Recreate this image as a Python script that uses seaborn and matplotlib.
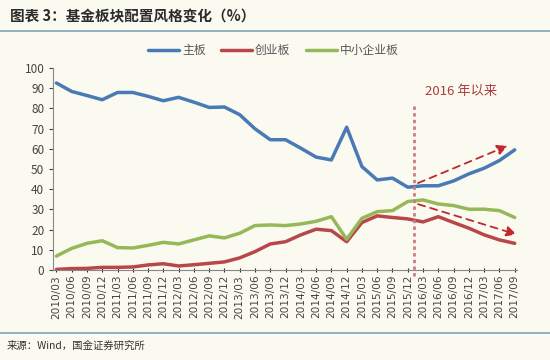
import numpy as np
import matplotlib.pyplot as plt
import seaborn as sns
import pandas as pd

# quarterly dates 2010/03 .. 2017/09
dates = ['2010/03', '2010/06', '2010/09', '2010/12', '2011/03', '2011/06', '2011/09', '2011/12',
         '2012/03', '2012/06', '2012/09', '2012/12', '2013/03', '2013/06', '2013/09', '2013/12',
         '2014/03', '2014/06', '2014/09', '2014/12', '2015/03', '2015/06', '2015/09', '2015/12',
         '2016/03', '2016/06', '2016/09', '2016/12', '2017/03', '2017/06', '2017/09']

main_board = [92.6, 88.4, 86.4, 84.3, 87.9, 87.9, 86.0, 83.8, 85.5, 83.1, 80.5, 80.7, 76.9, 69.9, 64.5, 64.5,
              60.3, 55.9, 54.5, 70.7, 51.2, 44.6, 45.5, 41.0, 41.7, 41.7, 44.1, 47.6, 50.4, 54.2, 59.5]
gem_board = [0.3, 0.7, 0.8, 1.3, 1.3, 1.5, 2.5, 3.1, 2.0, 2.6, 3.3, 4.0, 6.0, 9.1, 12.9, 14.0,
             17.4, 20.2, 19.5, 14.0, 23.5, 26.8, 26.0, 25.3, 23.8, 26.4, 23.5, 20.7, 17.4, 14.9, 13.2]
sme_board = [6.9, 10.7, 13.2, 14.5, 11.1, 10.9, 12.2, 13.7, 12.9, 14.9, 16.9, 15.9, 18.2, 22.0, 22.3, 22.0,
             22.8, 24.1, 26.4, 15.2, 25.6, 28.9, 29.4, 33.9, 34.7, 32.7, 31.9, 30.1, 30.1, 29.4, 26.0]

series_names = ['主板', '创业板', '中小企业板']
series_colors = ['#4A7AB5', '#B8474A', '#97B858']

df = pd.DataFrame({'idx': np.arange(len(dates)),
                   '主板': main_board, '创业板': gem_board, '中小企业板': sme_board})
long = df.melt(id_vars='idx', var_name='板块', value_name='占比')

sns.set_style('ticks')
plt.rcParams['font.family'] = ['Noto Sans CJK SC', 'DejaVu Sans']

bg = '#FBFAF1'
fig = plt.figure(figsize=(5.5, 3.6), dpi=100, facecolor=bg)
ax = fig.add_axes([0.097, 0.25, 0.843, 0.561])
ax.set_facecolor(bg)

sns.lineplot(data=long, x='idx', y='占比', hue='板块', hue_order=series_names,
             palette=series_colors, linewidth=2.5, ax=ax, legend=False)

ax.set_xlim(-0.2, 30.15)
ax.set_ylim(0, 100)
ax.set_yticks(range(0, 101, 10))
ax.set_xticks(range(len(dates)))
ax.set_xticklabels(dates, rotation=90, fontsize=7.6, color='#444444', family=['DejaVu Sans'])
ax.tick_params(axis='y', labelsize=8.5, colors='#444444', length=3, width=0.8)
ax.tick_params(axis='x', length=3, width=0.8, direction='inout', pad=2)
ax.set_xlabel('')
ax.set_ylabel('')
for s in ['top', 'right']:
    ax.spines[s].set_visible(False)
for s in ['left', 'bottom']:
    ax.spines[s].set_color('#888888')
    ax.spines[s].set_linewidth(0.8)

# vertical dashed marker and annotations
ax.axvline(23.4, ymin=-0.03, ymax=0.82, color='#CC7A80', linestyle=(0, (1.2, 1.2)),
           linewidth=2, clip_on=False)
ax.text(26.5, 88.5, '2016 年以来', color='#B03A3E', fontsize=9.5, ha='center', va='center')
ax.annotate('', xy=(29.7, 62.0), xytext=(23.5, 42.5),
            arrowprops=dict(arrowstyle='-|>,head_length=0.6,head_width=0.3', color='#C0282D',
                            linestyle=(0, (4, 3)), linewidth=1.3))
ax.annotate('', xy=(30.3, 17.2), xytext=(23.5, 33.0),
            arrowprops=dict(arrowstyle='-|>,head_length=0.6,head_width=0.3', color='#C0282D',
                            linestyle=(0, (4, 3)), linewidth=1.3), annotation_clip=False)

# legend
handles = [plt.Line2D([], [], color=c, linewidth=2.5) for c in series_colors]
fig.legend(handles, series_names, loc='center', bbox_to_anchor=(0.497, 0.86), ncol=3,
           frameon=False, fontsize=8.5, handlelength=2.6, handletextpad=0.3,
           columnspacing=1.3, labelcolor='#555555')

# title, rules and source
fig.text(0.018, 0.955, '图表 3：基金板块配置风格变化（%）', fontsize=10.5, fontweight='bold',
         style='italic', color='#2B2B2B', va='center')
fig.add_artist(plt.Line2D([0.0, 1.0], [0.915, 0.915], color='#7FA4B4', linewidth=1.2))
fig.add_artist(plt.Line2D([0.0, 1.0], [0.075, 0.075], color='#7FA4B4', linewidth=1.2))
fig.text(0.012, 0.04, '来源：Wind，国金证券研究所', fontsize=7.5, color='#333333', va='center')

fig.savefig('out.png', dpi=100, facecolor=bg)
